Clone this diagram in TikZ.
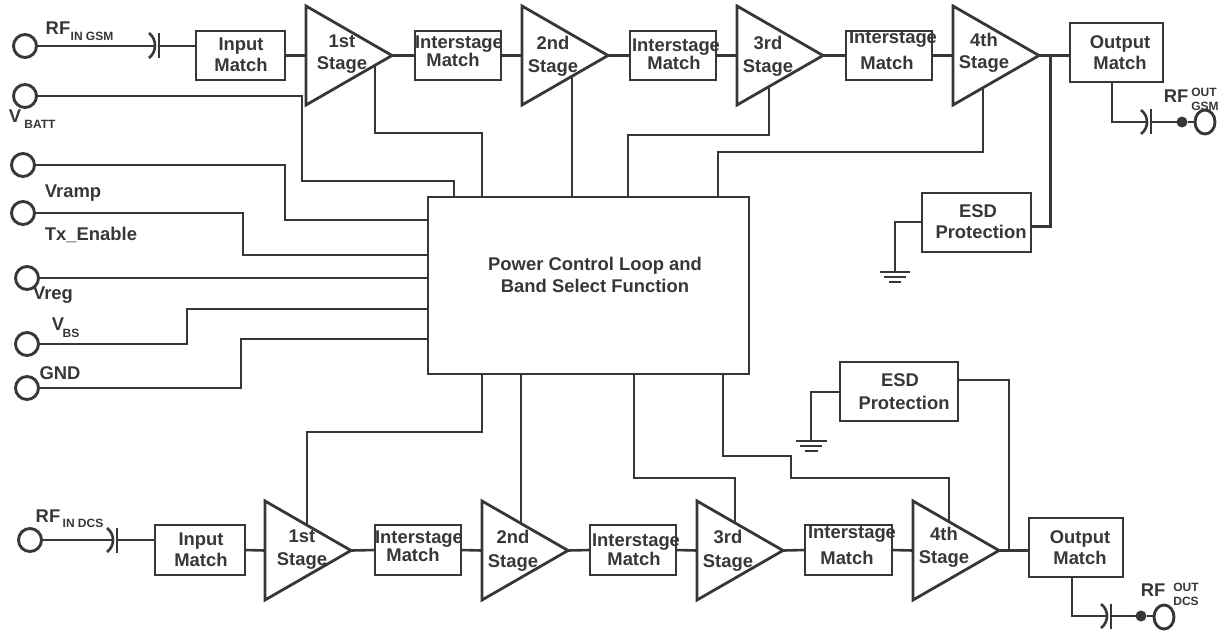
\documentclass[tikz,border=0pt]{standalone}
\usepackage{fontspec}
\setmainfont{Liberation Sans}
\usetikzlibrary{shapes.geometric}
\definecolor{ink}{HTML}{37373A}
\newcounter{lblc}
\newcommand{\lbl}[4][18.4]{\stepcounter{lblc}\node[lab,font=\fontsize{#1}{#1}\selectfont\bfseries] (lbl\arabic{lblc}) at (#2,#3+6.5) {#4};}
\newcommand{\sublbl}[3]{\stepcounter{lblc}\node[lab,font=\fontsize{12}{12}\selectfont\bfseries] (lbl\arabic{lblc}) at (#1,#2+4.3) {#3};}
\newcommand{\ampl}[3]{\draw[ampshape] (#2,#3) -- ++(86,49.5) coordinate (#1out) -- ++(-86,49.5) -- cycle;\coordinate (#1in) at (#2,#3+49.5);}
\tikzset{
  lab/.style={anchor=base,inner sep=0pt,outer sep=0pt,text=ink},
  wire/.style={draw=ink,line width=2.6pt,line join=miter},
  ampshape/.style={draw=ink,line width=2.8pt,line join=miter},
  boxn/.style={draw=ink,line width=2.8pt,anchor=north west,inner sep=0pt,outer sep=0pt},
  pin/.style={circle,draw=ink,line width=2.9pt,minimum size=23pt,inner sep=0pt,outer sep=0pt},
  opin/.style={ellipse,draw=ink,line width=2.9pt,minimum width=20pt,minimum height=24pt,inner sep=0pt,outer sep=0pt},
  dotn/.style={circle,fill=ink,minimum size=11pt,inner sep=0pt,outer sep=0pt},
}
\newcommand{\bx}[5]{\node[boxn,minimum width=#4pt,minimum height=#5pt] (#1) at (#2,#3) {};}
\begin{document}
\begin{tikzpicture}[x=1pt,y=-1pt]
\useasboundingbox (0,0) rectangle (1230,635);
% ---- pins
\node[pin] (rfingsm) at (25,46) {};
\node[pin] (vbatt) at (25,96) {};
\node[pin] (pinc) at (23,165) {};
\node[pin] (vramp) at (23,213) {};
\node[pin] (vreg) at (27,278) {};
\node[pin] (vbs) at (27,344) {};
\node[pin] (gnd) at (27,388) {};
\node[pin] (rfindcs) at (30,540) {};
\node[opin] (rfoutgsm) at (1205,122) {};
\node[opin] (rfoutdcs) at (1164,617) {};
% ---- block
\bx{ctrl}{428}{197}{321}{177}
% ---- top boxes
\bx{ima}{196}{31}{89}{49}
\bx{isa}{415}{31}{86}{49}
\bx{isb}{630}{31}{86}{49}
\bx{isc}{846}{31}{86}{49}
\bx{oma}{1070}{23}{93}{59}
\bx{esda}{922}{193}{109}{59}
% ---- bottom boxes
\bx{imb}{155}{525}{90}{50}
\bx{isd}{375}{525}{86}{50}
\bx{ise}{590}{525}{86}{50}
\bx{isf}{805}{525}{87}{50}
\bx{omb}{1029}{518}{94}{59}
\bx{esdb}{840}{362}{118}{59}
% ---- amplifiers
\ampl{ta}{306}{6}
\ampl{tb}{522}{6}
\ampl{tc}{737}{6}
\ampl{td}{953}{6}
\ampl{te}{265}{501}
\ampl{tf}{482}{501}
\ampl{tg}{697}{501}
\ampl{th}{913}{501}
% ---- top chain
\coordinate (capa1) at (155,46);
\coordinate (capa2) at (159,46);
\draw[wire] (rfingsm) -- (capa1);
\draw[wire] (capa2) -- (capa2 -| ima.west);
\draw[wire] (149,33) .. controls (157,39) and (157,52) .. (149,58);
\draw[wire] (159,33) -- (159,58);
\draw[wire] (ima.east) -- (tain);
\draw[wire] (taout) -- (isa.west);
\draw[wire] (isa.east) -- (tbin);
\draw[wire] (tbout) -- (isb.west);
\draw[wire] (isb.east) -- (tcin);
\draw[wire] (tcout) -- (isc.west);
\draw[wire] (isc.east) -- (tdin);
\coordinate (junca) at (1050,55.5);
\draw[wire] (tdout) -- (oma.west |- tdout);
\draw[wire,line width=3pt] (junca) -- (1050,226) -- (esda.east |- 0,226);
\coordinate (gnda) at (895,272);
\draw[wire] (esda.west |- 0,222) -| (gnda);
\draw[wire] (880,272) -- (910,272) (884,277) -- (906,277) (889,282) -- (901,282);
% output GSM
\coordinate (capb1) at (1147,122);
\coordinate (capb2) at (1151,122);
\node[dotn] (dota) at (1182,122) {};
\draw[wire] (oma.south -| 1112,0) -- (1112,122) -- (capb1);
\draw[wire] (1141,110) .. controls (1149,116) and (1149,128) .. (1141,134);
\draw[wire] (1151,109) -- (1151,134);
\draw[wire] (capb2) -- (dota) -- (rfoutgsm);
% ---- bottom chain
\coordinate (capc1) at (113,540);
\coordinate (capc2) at (117,540);
\draw[wire] (rfindcs) -- (capc1);
\draw[wire] (capc2) -- (capc2 -| imb.west);
\draw[wire] (107,528) .. controls (115,534) and (115,546) .. (107,552);
\draw[wire] (117,528) -- (117,553);
\draw[wire] (imb.east) -- (tein);
\draw[wire] (teout) -- (isd.west);
\draw[wire] (isd.east) -- (tfin);
\draw[wire] (tfout) -- (ise.west);
\draw[wire] (ise.east) -- (tgin);
\draw[wire] (tgout) -- (isf.west);
\draw[wire] (isf.east) -- (thin);
\draw[wire] (thout) -- (omb.west |- thout);
\draw[wire] (1009,550.5) -- (1009,380) -- (esdb.east |- 0,380);
\coordinate (gndb) at (811,441);
\draw[wire] (esdb.west |- 0,392) -| (gndb);
\draw[wire] (796,441) -- (827,441) (800,446) -- (822,446) (805,451) -- (818,451);
% output DCS
\coordinate (capd1) at (1107,616);
\coordinate (capd2) at (1111,616);
\node[dotn] (dotb) at (1141,616) {};
\draw[wire] (omb.south -| 1072,0) -- (1072,616) -- (capd1);
\draw[wire] (1101,604) .. controls (1109,610) and (1109,622) .. (1101,628);
\draw[wire] (1111,604) -- (1111,629);
\draw[wire] (capd2) -- (dotb) -- (rfoutdcs.west |- dotb);
% ---- pins to block
\draw[wire] (vbatt) -- (302,96) -- (302,181) -- (454,181) -- (454,197);
\draw[wire] (pinc) -- (285,165) -- (285,220) -- (ctrl.west |- 0,220);
\draw[wire] (vramp) -- (243,213) -- (243,255) -- (ctrl.west |- 0,255);
\draw[wire] (vreg) -- (vreg -| ctrl.west);
\draw[wire] (vbs) -- (187,344) -- (187,309) -- (ctrl.west |- 0,309);
\draw[wire] (gnd) -- (241,388) -- (241,339) -- (ctrl.west |- 0,339);
% ---- block to upper amplifiers
\coordinate (tapa) at (375,65);
\coordinate (tapb) at (572,76);
\coordinate (tapc) at (769,87);
\coordinate (tapd) at (983,88);
\draw[wire] (tapa) -- (375,133) -- (482,133) -- (482,197);
\draw[wire] (tapb) -- (572,197);
\draw[wire] (tapc) -- (769,135) -- (628,135) -- (628,197);
\draw[wire] (tapd) -- (983,152) -- (718,152) -- (718,197);
% ---- block to lower amplifiers
\coordinate (tape) at (307,525);
\coordinate (tapf) at (521,523);
\coordinate (tapg) at (735,523);
\coordinate (taph) at (949,522);
\draw[wire] (482,374) -- (482,432) -- (307,432) -- (tape);
\draw[wire] (521,374) -- (tapf);
\draw[wire] (634,374) -- (634,478) -- (735,478) -- (tapg);
\draw[wire] (723,374) -- (723,456) -- (791,456) -- (791,478) -- (949,478) -- (taph);
% ---- labels
\lbl{58}{28}{RF}\sublbl{92}{36}{IN GSM}
\lbl{15}{116}{V}\sublbl{40}{124}{BATT}
\lbl{73}{191}{Vramp}
\lbl{91}{234}{Tx\_Enable}
\lbl{53}{293}{Vreg}
\lbl{58}{324}{V}\sublbl{71}{333}{BS}
\lbl{60}{373}{GND}
\lbl{48}{516}{RF}\sublbl{83}{523}{IN DCS}
\lbl{241}{44}{Input}\lbl{241}{65}{Match}
\lbl{342}{41}{1st}\lbl{342}{63}{Stage}
\lbl{459}{42}{Interstage}\lbl{453}{60}{Match}
\lbl{553}{43}{2nd}\lbl{553}{66}{Stage}
\lbl{676}{45}{Interstage}\lbl{674}{63}{Match}
\lbl{768}{43}{3rd}\lbl{768}{66}{Stage}
\lbl{893}{37}{Interstage}\lbl{887}{63}{Match}
\lbl{984}{40}{4th}\lbl{984}{62}{Stage}
\lbl{1120}{42}{Output}\lbl{1120}{63}{Match}
\lbl{1176}{96}{RF}\sublbl{1204}{92}{OUT}\sublbl{1205}{106}{GSM}
\lbl{978}{211}{ESD}\lbl{981}{232}{Protection}
\lbl{595}{264}{Power Control Loop and}
\lbl{595}{286}{Band Select Function}
\lbl{900}{380}{ESD}\lbl{904}{403}{Protection}
\lbl{201}{539}{Input}\lbl{201}{560}{Match}
\lbl{302}{536}{1st}\lbl{302}{559}{Stage}
\lbl{419}{537}{Interstage}\lbl{413}{555}{Match}
\lbl{513}{537}{2nd}\lbl{513}{561}{Stage}
\lbl{636}{540}{Interstage}\lbl{634}{559}{Match}
\lbl{728}{537}{3rd}\lbl{728}{561}{Stage}
\lbl{852}{532}{Interstage}\lbl{847}{558}{Match}
\lbl{944}{534}{4th}\lbl{944}{557}{Stage}
\lbl{1080}{537}{Output}\lbl{1080}{558}{Match}
\lbl{1153}{590}{RF}\sublbl{1186}{587}{OUT}\sublbl{1186}{601}{DCS}
\end{tikzpicture}
\end{document}
